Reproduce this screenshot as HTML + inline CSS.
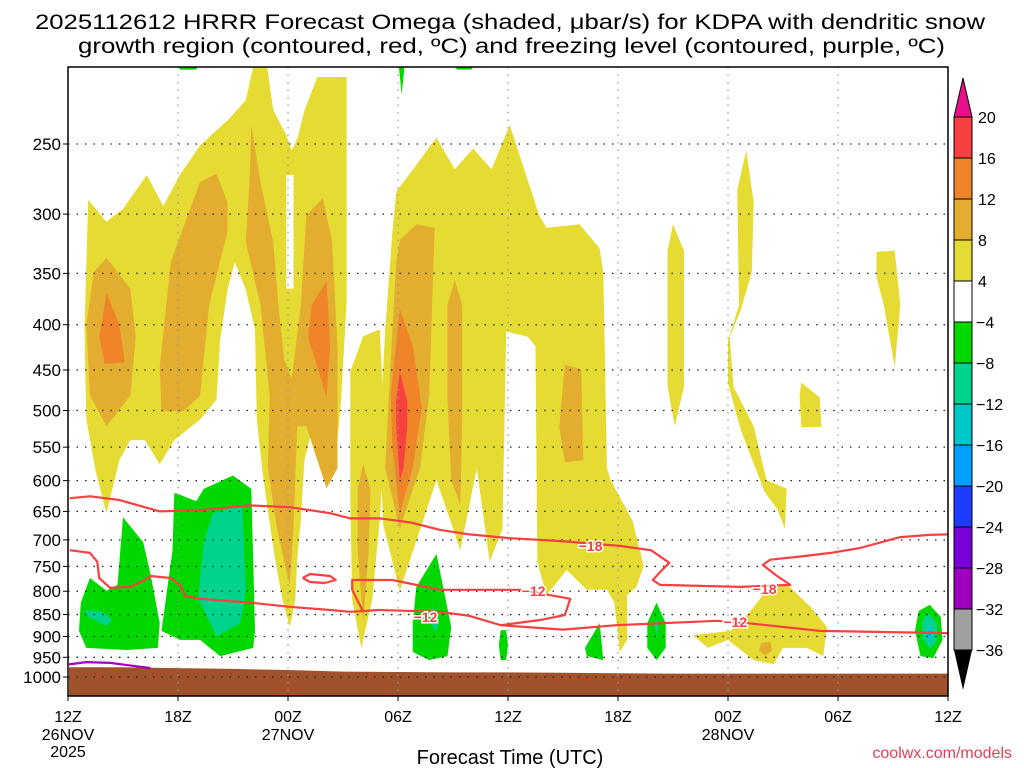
<!DOCTYPE html>
<html><head><meta charset="utf-8"><title>HRRR Omega KDPA</title>
<style>
html,body{margin:0;padding:0;background:#fff;}
svg{display:block;font-family:"Liberation Sans",sans-serif;}
</style></head>
<body>
<svg id="chart" width="1024" height="768" viewBox="0 0 1024 768" xmlns="http://www.w3.org/2000/svg">
<defs><clipPath id="plotclip"><rect x="69" y="67" width="879" height="629"/></clipPath></defs>
<rect x="0" y="0" width="1024" height="768" fill="#fff"/>
<text x="35" y="29" font-size="21" textLength="950" lengthAdjust="spacingAndGlyphs" fill="#000">2025112612 HRRR Forecast Omega (shaded, μbar/s) for KDPA with dendritic snow</text>
<text x="78" y="53" font-size="21" textLength="867" lengthAdjust="spacingAndGlyphs" fill="#000">growth region (contoured, red, ºC) and freezing level (contoured, purple, ºC)</text>
<g id="fills" clip-path="url(#plotclip)"></g>
<g id="grid"></g>
<g id="contours" clip-path="url(#plotclip)"></g>
<g id="axes"></g>
<g id="colorbar"></g>
<text x="510" y="764" font-size="20" text-anchor="middle" fill="#000">Forecast Time (UTC)</text>
<text x="1012" y="758" font-size="16" text-anchor="end" fill="#e0405a">coolwx.com/models</text>
</svg>
<script>
// ---- data (hours since 12Z 26NOV, pressure hPa) ----
const tickHours = [0,6,12,18,24,30,36,42,48];
const tickLabels = ["12Z","18Z","00Z","06Z","12Z","18Z","00Z","06Z","12Z"];
const dateLabels = ["26NOV","","27NOV","","","","28NOV","",""];
const pLevels = [250,300,350,400,450,500,550,600,650,700,750,800,850,900,950,1000];
const cbLevels = ["20","16","12","8","4","\u22124","\u22128","\u221212","\u221216","\u221220","\u221224","\u221228","\u221232","\u221236"];
const cbColors = ["#f74040","#ef8428","#e3ae30","#e5db33","#ffffff","#00d800","#00d38c","#00c8c8","#00a0ff","#1e3cff","#7800d8","#a000c0","#a0a0a0"];
const sfcHours = [0,3,6,9,12,15,18,21,24,27,30,33,36,39,42,45,48];
const sfcPres = [975,975,977,979,982,986,987,988,988,989,990,991,991,991,991,991,991];
const yellowAreas = [
 [[2.1,653],[1.5,584],[1.0,512],[0.9,405],[1.1,289],[2.1,306],[3.0,296],[4.3,271],[5.2,294],[6.1,271],[7.2,251],[8.8,234],[9.7,223],[10.2,200],[10.8,200],[11.2,229],[11.9,244],[12.2,254],[12.5,247],[12.9,229],[13.6,210],[15.2,210],[15.2,289],[15.2,375],[14.9,486],[14.7,540],[14.1,612],[13.7,569],[13.3,526],[12.9,569],[12.7,665],[12.5,737],[12.4,818],[12.1,878],[11.7,818],[11.3,737],[10.9,648],[10.6,584],[10.3,512],[10.2,405],[9.7,365],[9.1,340],[8.7,365],[8.3,416],[8.1,486],[7.2,512],[5.8,540],[5.0,575],[4.2,540],[3.4,540],[2.8,569]],
 [[17.3,405],[17.7,313],[17.9,283],[20.1,246],[21.1,267],[22.1,253],[23.1,267],[24.1,238],[25.7,301],[26.1,311],[27.9,308],[29.0,328],[29.2,349],[29.4,581],[29.6,599],[30.8,667],[31.4,749],[31.0,791],[30.5,808],[30.5,908],[30.1,937],[29.8,824],[29.4,797],[28.3,797],[27.2,757],[26.1,808],[25.6,741],[25.5,423],[25.1,413],[23.9,407],[23.7,680],[23.0,741],[22.3,581],[21.4,719],[20.1,599],[18.1,799],[17.2,674],[17.0,540]],
 [[16.1,412],[17.0,405],[17.3,540],[17.0,665],[16.6,818],[16.0,927],[15.5,818],[15.4,631],[15.4,452]],
 [[33.0,308],[33.6,330],[33.6,470],[33.1,521],[32.7,470],[32.7,330]],
 [[37.0,254],[37.4,291],[37.3,349],[36.7,385],[36.1,413],[36.3,470],[37.4,521],[38.1,599],[39.2,613],[39.1,680],[38.7,647],[38.0,618],[36.7,526],[36.0,466],[36.0,417],[36.6,380],[36.5,282]],
 [[40.0,465],[41.0,483],[41.1,522],[40.0,522],[39.9,481]],
 [[44.1,331],[45.1,330],[45.4,380],[45.1,447],[44.5,380],[44.1,353]],
 [[34.1,897],[36.1,887],[36.7,869],[38.1,799],[39.2,785],[40.5,833],[41.4,878],[41.2,947],[40.3,927],[39.0,927],[38.5,967],[37.4,957],[36.0,908],[34.9,927]]
];
const whiteAreas = [
 [[11.9,271],[12.3,271],[12.3,364],[11.9,364]]
];
const goldAreas = [
 [[1.4,349],[2.1,336],[3.4,364],[3.7,413],[3.4,481],[2.1,521],[1.2,481],[1.0,400]],
 [[7.2,276],[8.1,270],[8.7,291],[8.7,314],[7.7,380],[7.2,481],[6.3,501],[5.1,501],[5.0,447],[5.6,340]],
 [[10.0,238],[10.5,276],[11.2,323],[11.5,385],[11.8,438],[12.2,460],[12.7,380],[13.0,301],[13.9,288],[14.4,321],[14.7,423],[14.7,581],[14.1,612],[13.0,521],[12.5,521],[12.3,680],[12.1,789],[11.4,680],[10.9,581],[11.0,482],[10.5,380],[9.7,323],[9.9,276]],
 [[16.1,575],[16.5,613],[16.4,719],[16.1,869],[15.8,719],[15.8,613]],
 [[18.1,321],[19.0,308],[20.0,311],[19.9,360],[19.7,481],[19.2,581],[18.1,680],[17.3,581],[17.5,481],[17.9,340]],
 [[21.1,356],[21.5,380],[21.5,512],[21.4,639],[20.9,599],[20.7,486],[20.7,380]],
 [[27.1,444],[28.0,449],[28.1,569],[27.1,572],[26.8,522]],
 [[37.8,915],[38.3,912],[38.4,935],[38.0,945],[37.7,935]]
];
const orangeAreas = [
 [[2.1,368],[2.8,400],[3.1,441],[2.0,443],[1.7,413]],
 [[14.1,357],[14.3,423],[14.1,483],[13.1,413],[13.3,380]],
 [[18.1,384],[18.8,423],[19.3,496],[18.8,581],[18.1,653],[17.7,551],[17.6,481]]
];
const redAreas = [
 [[18.1,452],[18.5,488],[18.5,521],[18.3,581],[18.1,599],[17.9,521],[17.9,488]]
];
const greenAreas = [
 [[0.7,824],[1.2,773],[2.1,799],[2.7,787],[3.0,660],[4.1,704],[4.5,765],[5.0,869],[4.9,927],[3.2,932],[1.0,927],[0.6,887]],
 [[5.9,620],[7.0,633],[7.4,613],[9.0,592],[10.0,613],[10.2,887],[10.1,927],[8.3,947],[7.2,908],[6.1,908],[5.1,887],[5.7,719],[5.8,620]],
 [[19.0,791],[20.1,726],[20.9,878],[20.7,947],[19.7,957],[18.8,937],[18.8,869]],
 [[23.6,885],[23.9,885],[24.0,920],[23.9,957],[23.6,957],[23.5,920]],
 [[29.0,869],[29.2,957],[28.3,947],[28.2,927]],
 [[32.1,824],[32.6,869],[32.6,927],[32.1,957],[31.6,927],[31.6,869]],
 [[47.0,829],[47.6,855],[47.7,908],[47.2,952],[46.5,947],[46.2,887],[46.4,842]],
 [[5.9,200],[7.2,200],[7.0,206],[6.1,206]],
 [[18.0,200],[18.4,200],[18.2,220]],
 [[21.0,200],[22.3,200],[22.0,206],[21.2,206]]
];
const tealAreas = [
 [[0.9,840],[1.9,844],[2.4,862],[2.1,876],[1.1,855]],
 [[7.9,653],[9.5,639],[9.7,799],[9.4,869],[8.1,899],[7.1,816],[7.4,704]],
 [[19.9,833],[20.2,855],[20.1,892],[19.8,869]],
 [[32.1,858],[32.2,875],[32.1,900],[32.0,875]],
 [[46.9,845],[47.4,870],[47.4,910],[47.0,930],[46.6,905],[46.6,865]]
];
const cyanAreas = [
 [[46.9,870],[47.2,885],[47.1,915],[46.8,900]]
];
const blueAreas = [
 [[46.95,886],[47.1,893],[46.95,900],[46.85,893]]
];
const line18 = [[0.1,628],[1.2,625],[2.8,631],[5.0,650],[7.2,648],[9.9,640],[12.1,643],[14.3,653],[15.4,662],[17.0,662],[18.7,669],[20.3,682],[21.9,690],[24.1,697],[26.8,702],[30.1,711],[31.8,719],[32.8,743],[32.3,761],[31.9,777],[32.3,787],[34.5,789],[36.7,791],[39.4,787],[38.6,767],[37.9,747],[38.3,737],[39.9,731],[41.6,724],[43.2,715],[45.4,695],[47.0,691],[48,690]];
const line12a = [[0.1,719],[1.2,724],[1.6,741],[1.7,773],[2.3,793],[3.4,791],[4.2,777],[4.5,769],[5.6,773],[6.1,787],[6.4,810],[7.2,816],[9.9,824],[12.1,833],[14.3,840],[15.4,844],[17.0,840],[20.3,844],[21.9,853],[23.6,874],[27.0,884],[29.9,874],[35.4,864],[37.0,869],[41.0,887],[48,892]];
const line12b = [[16.1,844],[15.5,797],[15.5,777],[17.7,777],[20.3,797],[24.7,797],[27.4,816],[27.1,851],[25.8,862],[23.6,874]];
const line12c = [[12.8,773],[13.2,765],[14.3,769],[14.6,777],[14.0,783],[13.2,781],[12.8,773]];
const labels18 = [[28.5,711],[38.0,795]];
const labels12 = [[19.5,855],[25.4,799],[36.4,867]];
const freezeLine = [[0,968],[1,962],[2.3,964],[4.5,977]];

// ---- axis functions ----
const X0=68, X1=948, HMAX=48;
function X(h){return X0+(X1-X0)*h/HMAX;}
function Y(p){return 144+384.5*Math.log(p/250);}
const NS="http://www.w3.org/2000/svg";
function mk(tag,attrs,parent){const e=document.createElementNS(NS,tag);for(const k in attrs)e.setAttribute(k,attrs[k]);parent.appendChild(e);return e;}
function pts(arr){return arr.map(d=>X(d[0]).toFixed(1)+","+Y(d[1]).toFixed(1)).join(" ");}

const fills=document.getElementById("fills");
function drawAreas(list,color,name){
 list.forEach(a=>{
  const e=mk("polygon",{points:pts(a),fill:color},fills);
  
  
 });
}
drawAreas(yellowAreas,"#e5db33","omega-4-8-area");
drawAreas(whiteAreas,"#ffffff","omega-neutral-gap");
drawAreas(goldAreas,"#e3ae30","omega-8-12-area");
drawAreas(orangeAreas,"#ef8428","omega-12-16-area");
drawAreas(redAreas,"#f74040","omega-16-20-area");
drawAreas(greenAreas,"#00d800","omega-neg4-neg8-area");
drawAreas(tealAreas,"#00d38c","omega-neg8-neg12-area");
drawAreas(cyanAreas,"#00c8c8","omega-neg12-neg16-area");
drawAreas(blueAreas,"#00a0ff","omega-neg16-neg20-area");
// ground
{
 const g=[[0,1100]].concat(sfcHours.map((h,i)=>[h,sfcPres[i]])).concat([[48,1100]]);
 const e=mk("polygon",{points:pts(g),fill:"#a0522d"},fills);
 
 
}

// grid
const grid=document.getElementById("grid");
pLevels.forEach(p=>{
 const e=mk("line",{x1:X0,x2:X1,y1:Y(p),y2:Y(p),stroke:"#222","stroke-width":1.3,"stroke-dasharray":"1.5,7"},grid);
 
 
});
tickHours.slice(1,-1).forEach(h=>{
 const e=mk("line",{x1:X(h),x2:X(h),y1:67,y2:696,stroke:"#999","stroke-width":1.2,"stroke-dasharray":"1.5,6"},grid);
 
 
});

// contours
const cg=document.getElementById("contours");
function line(arr,color,name,w){
 const e=mk("polyline",{points:pts(arr),fill:"none",stroke:color,"stroke-width":w||2.2,"stroke-linejoin":"round"},cg);
 
 
}
line(line18,"#f74040","isotherm-minus18");
line(line12a,"#f74040","isotherm-minus12");
line(line12b,"#f74040","isotherm-minus12-loop");
line(line12c,"#f74040","isotherm-minus12-small-loop");
line(freezeLine,"#a000c0","freezing-level-line");
function clabel(list,txt,name){
 list.forEach(d=>{
  const t=mk("text",{x:X(d[0]),y:Y(d[1])+5,"font-size":14,"font-weight":"bold","text-anchor":"middle",fill:"#f74040",stroke:"#fff","stroke-width":3,"paint-order":"stroke"},cg);
  t.textContent=txt;
  
  
 });
}
clabel(labels18,"\u221218","contour-label-minus18");
clabel(labels12,"\u221212","contour-label-minus12");

// axes
const ax=document.getElementById("axes");
{
 const fr=mk("rect",{x:X0,y:67,width:X1-X0,height:629,fill:"none",stroke:"#000","stroke-width":1.5},ax);
 
 
}
pLevels.forEach(p=>{
 const tk=mk("line",{x1:X0-5,x2:X0,y1:Y(p),y2:Y(p),stroke:"#000"},ax);
 
 
 const t=mk("text",{x:61,y:Y(p)+6,"font-size":17,"text-anchor":"end",fill:"#000"},ax);
 t.textContent=String(p);
 
 
});
tickHours.forEach((h,i)=>{
 const tk=mk("line",{x1:X(h),x2:X(h),y1:696,y2:701,stroke:"#000"},ax);
 
 
 const t=mk("text",{x:X(h),y:722,"font-size":16,"text-anchor":"middle",fill:"#000"},ax);
 t.textContent=tickLabels[i];
 
 
 if(dateLabels[i]){
  const d=mk("text",{x:X(h),y:740,"font-size":16,"text-anchor":"middle",fill:"#000"},ax);
  d.textContent=dateLabels[i];
  
  
 }
});
{
 const t=mk("text",{x:X(0),y:757,"font-size":16,"text-anchor":"middle",fill:"#000"},ax);
 t.textContent="2025";
 
 
}

// colorbar
const cb=document.getElementById("colorbar");
const CBX=954, CBW=18, CBTOP=117, CBSTEP=41;
{
 const tri=mk("polygon",{points:`${CBX},${CBTOP} ${CBX+CBW},${CBTOP} ${CBX+CBW/2},78`,fill:"#e8108a",stroke:"#000"},cb);
 
 
}
cbColors.forEach((c,i)=>{
 const r=mk("rect",{x:CBX,y:CBTOP+i*CBSTEP,width:CBW,height:CBSTEP,fill:c,stroke:"#000","stroke-width":1},cb);
 
 
});
{
 const yb=CBTOP+cbColors.length*CBSTEP;
 const tri=mk("polygon",{points:`${CBX},${yb} ${CBX+CBW},${yb} ${CBX+CBW/2},${yb+40}`,fill:"#000"},cb);
 
 
}
cbLevels.forEach((l,i)=>{
 const t=mk("text",{x:l.startsWith("\u2212")?976:978,y:CBTOP+i*CBSTEP+6,"font-size":16,fill:"#000"},cb);
 t.textContent=l;
 
 
});
</script>
</body></html>
